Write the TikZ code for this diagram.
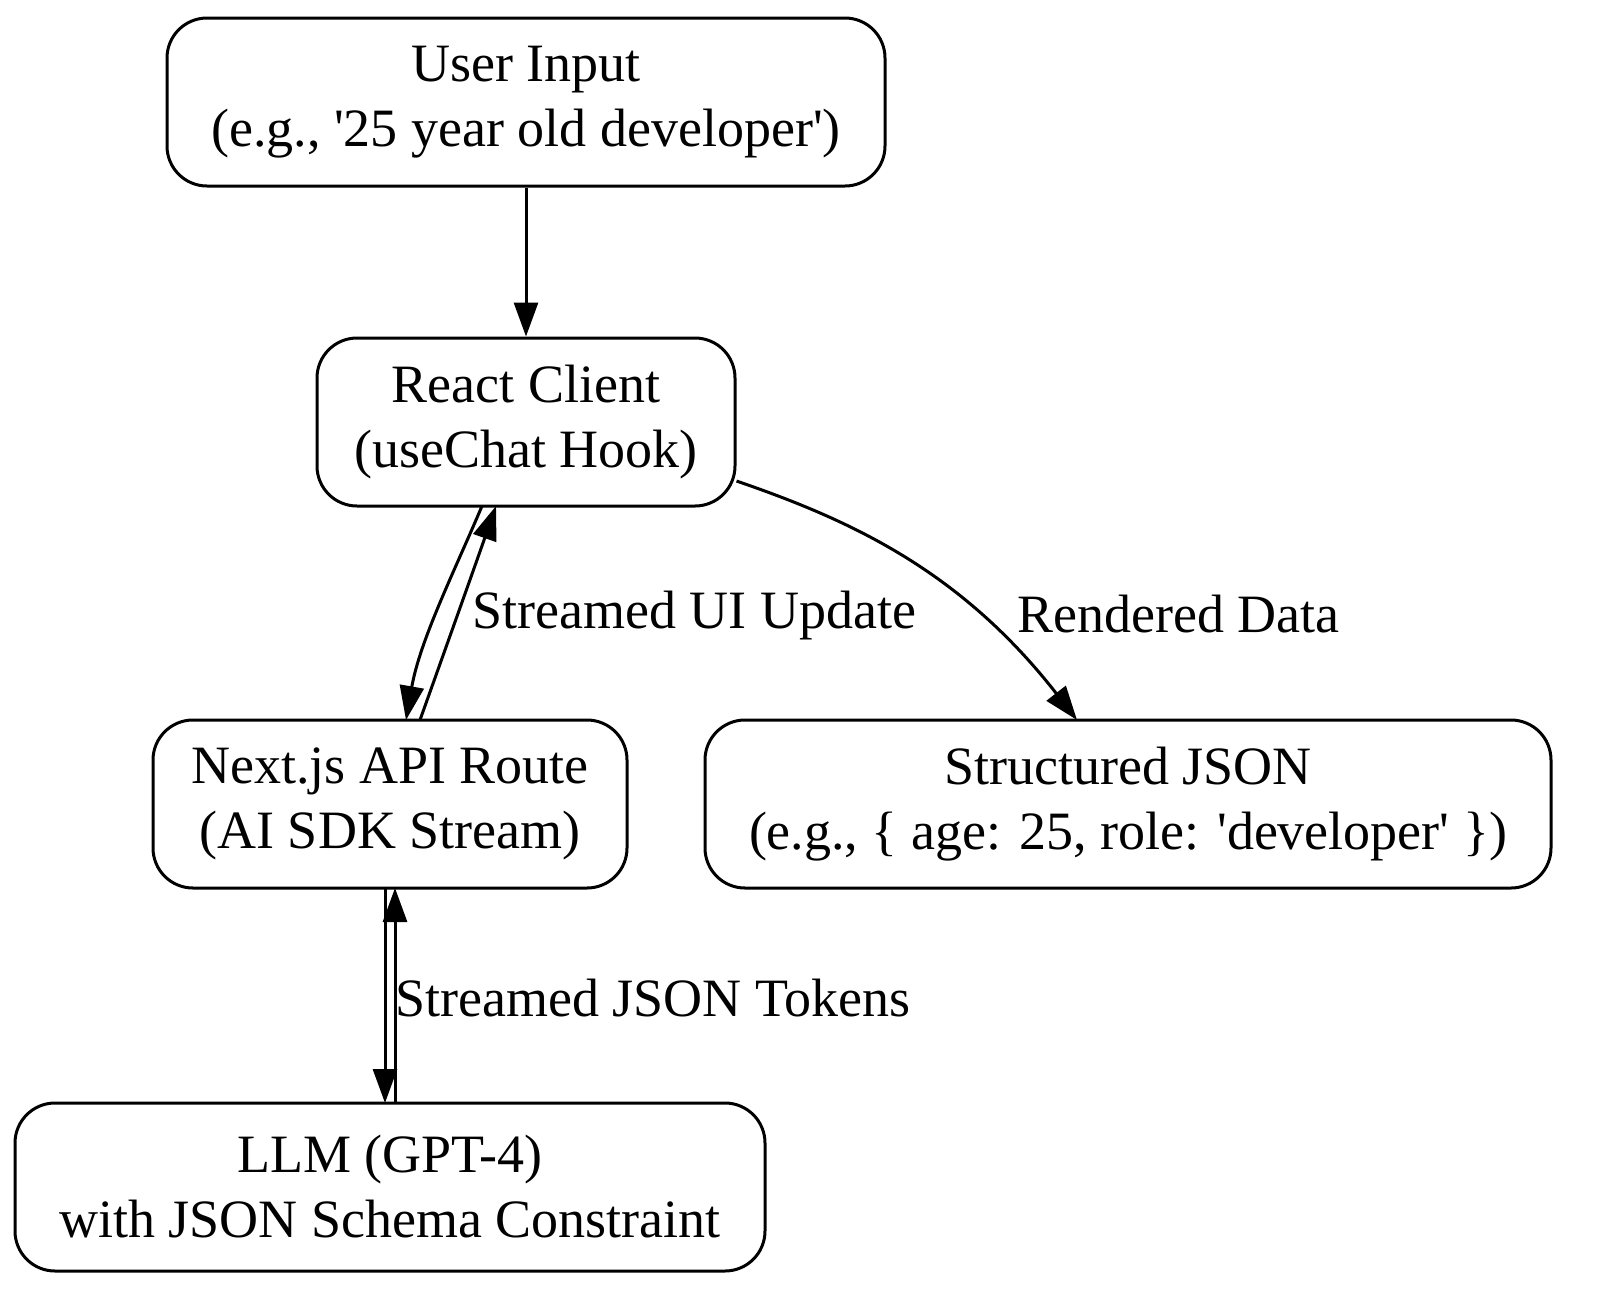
\documentclass[tikz,border=0pt]{standalone}
\usepackage{fontspec}
\setmainfont{Liberation Serif}[Ligatures=TeXOff]
\usetikzlibrary{arrows.meta}
\begin{document}
\begin{tikzpicture}[x=0.5pt,y=-0.5pt,
  box/.style={draw,line width=1.5pt,rounded corners=20pt,align=center,inner sep=0pt,font=\fontsize{27}{32.5}\selectfont},
  lab/.style={font=\fontsize{27}{30}\selectfont,anchor=west,inner sep=0pt},
  ar/.style={line width=1.5pt,-{Triangle[length=17pt,width=12pt]}}]
\useasboundingbox (0,0) rectangle (1597,1308);
\node[box,minimum width=359pt,minimum height=84pt] (u) at (526,102) {User Input\\(e.g., '25 year old developer')};
\node[box,minimum width=209pt,minimum height=84pt] (r) at (526,422) {React Client\\(useChat Hook)};
\node[box,minimum width=237pt,minimum height=84pt] (n) at (390,804) {Next.js API Route\\(AI SDK Stream)};
\node[box,minimum width=423pt,minimum height=84pt] (s) at (1128,804) {Structured JSON\\(e.g., \{ age: 25, role: 'developer' \})};
\node[box,minimum width=375pt,minimum height=84pt] (l) at (390,1187) {LLM (GPT-4)\\with JSON Schema Constraint};
\coordinate (r1) at (482,506); \coordinate (r2) at (496,506);
\coordinate (n1) at (406,720); \coordinate (n2) at (420,720);
\draw[ar] (u) -- (r);
\draw[ar] (r1) .. controls (455,570) and (420,640) .. (n1);
\draw[ar] (n2) .. controls (445,650) and (470,580) .. (r2);
\node[lab] at (472,616) {Streamed UI Update};
\draw[ar] (r.east|-0,481) .. controls (850,520) and (960,570) .. (1077,720);
\node[lab] at (1017,614) {Rendered Data};
\coordinate (n3) at (385,888); \coordinate (n4) at (395,888);
\coordinate (l3) at (385,1103); \coordinate (l4) at (395,1103);
\draw[ar] (n3) -- (l3);
\draw[ar] (l4) -- (n4);
\node[lab] at (395,998) {Streamed JSON Tokens};
\end{tikzpicture}
\end{document}
